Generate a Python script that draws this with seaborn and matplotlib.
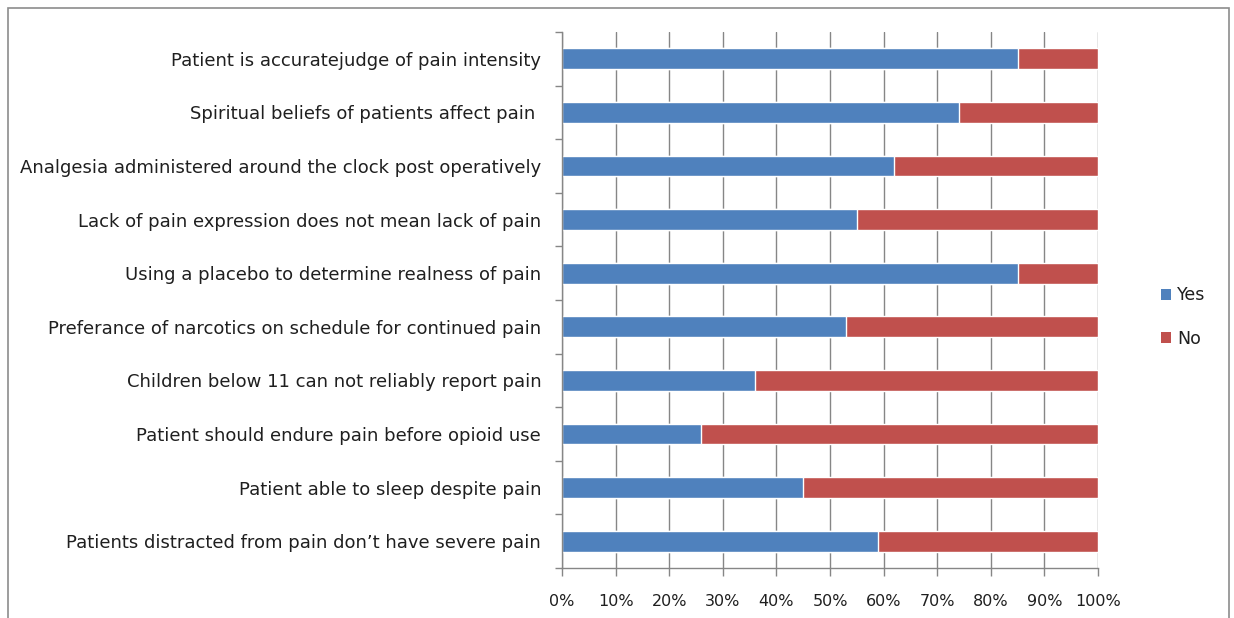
import matplotlib
matplotlib.use("Agg")
import matplotlib.pyplot as plt
from matplotlib.patches import Patch, Rectangle
import seaborn as sns
import pandas as pd

statements = [
    "Patient is accuratejudge of pain intensity",
    "Spiritual beliefs of patients affect pain ",
    "Analgesia administered around the clock post operatively",
    "Lack of pain expression does not mean lack of pain",
    "Using a placebo to determine realness of pain",
    "Preferance of narcotics on schedule for continued pain",
    "Children below 11 can not reliably report pain",
    "Patient should endure pain before opioid use",
    "Patient able to sleep despite pain",
    "Patients distracted from pain don\u2019t have severe pain",
]
yes_pct = [85, 74, 62, 55, 85, 53, 36, 26, 45, 59]
no_pct = [15, 26, 38, 45, 15, 47, 64, 74, 55, 41]
tick_labels = ["0%", "10%", "20%", "30%", "40%", "50%", "60%", "70%", "80%", "90%", "100%"]

BLUE = "#4F81BD"
RED = "#C0504D"
GRID = "#868686"
TEXT = "#1f1f1f"

sns.set_theme(style="white")
plt.rcParams["font.family"] = ["DejaVu Sans"]

df = pd.DataFrame({"statement": statements, "yes": yes_pct, "no": no_pct})
df["total"] = df["yes"] + df["no"]

fig = plt.figure(figsize=(12.34, 6.18), dpi=100)
ax = fig.add_axes([562 / 1234, 1 - 568 / 618, 536 / 1234, 536 / 618])

# stacked bars: full length in red, Yes share in blue on top
sns.barplot(data=df, x="total", y="statement", orient="h", color=RED,
            width=0.39, saturation=1, ax=ax, zorder=3)
sns.barplot(data=df, x="yes", y="statement", orient="h", color=BLUE,
            width=0.39, saturation=1, ax=ax, zorder=4)

ax.set_xlim(0, 100)
ax.set_ylim(len(statements) - 0.5, -0.5)
ax.set_xlabel("")
ax.set_ylabel("")

ax.set_xticks(range(0, 101, 10))
ax.set_xticklabels(tick_labels)
ax.set_yticks(range(len(statements)))
ax.set_yticklabels(statements)

# category boundary ticks on the vertical axis
ax.set_yticks([i - 0.5 for i in range(len(statements) + 1)], minor=True)
ax.tick_params(axis="y", which="major", length=0, pad=15, labelsize=13, labelcolor=TEXT)
ax.tick_params(axis="y", which="minor", length=5, width=1, color=GRID, direction="out", left=True)
ax.tick_params(axis="x", which="major", length=6, width=1, color=GRID, direction="out",
               bottom=True, pad=12.5, labelsize=11.5, labelcolor=TEXT)

ax.grid(axis="x", color=GRID, linewidth=1, zorder=0)
ax.grid(axis="y", visible=False)
ax.set_axisbelow(True)
for side in ["top", "right"]:
    ax.spines[side].set_visible(False)
for side in ["left", "bottom"]:
    ax.spines[side].set_color(GRID)
    ax.spines[side].set_linewidth(1)
    ax.spines[side].set_zorder(5)

handles = [Patch(facecolor=BLUE, edgecolor="none", label="Yes"),
           Patch(facecolor=RED, edgecolor="none", label="No")]
fig.legend(handles=handles, loc="center left", bbox_to_anchor=(1145 / 1234, 1 - 317 / 618),
           frameon=False, handlelength=0.58, handleheight=0.58, handletextpad=0.35,
           labelspacing=1.45, fontsize=12.5, labelcolor=TEXT)

# chart area border
fig.add_artist(Rectangle((8 / 1234, -0.1), (1229 - 8) / 1234, 1.1 - 8 / 618,
                         transform=fig.transFigure, fill=False,
                         edgecolor="#8c8c8c", linewidth=1.2))

fig.savefig("out.png", dpi=100, facecolor="white")
